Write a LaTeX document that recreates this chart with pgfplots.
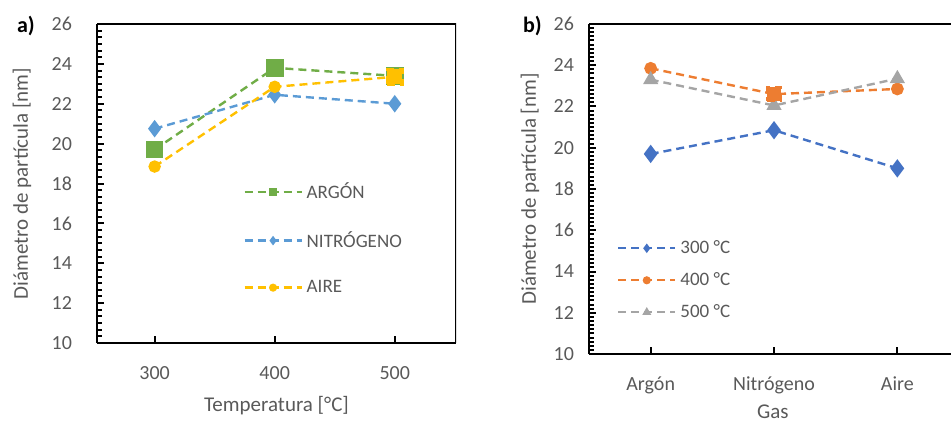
\documentclass[border=0pt]{standalone}
\usepackage{pgfplots}
\pgfplotsset{compat=1.18}
\usepackage{fontspec}
\setmainfont{Carlito}
\setsansfont{Carlito}
\definecolor{txt}{HTML}{595959}
\definecolor{cgreen}{HTML}{70AD47}
\definecolor{cblue}{HTML}{5B9BD5}
\definecolor{cgold}{HTML}{FFC000}
\definecolor{dblue}{HTML}{4472C4}
\definecolor{corange}{HTML}{ED7D31}
\definecolor{cgray}{HTML}{A5A5A5}
\pgfplotsset{
  textsty/.style={
    tick label style={font=\fontsize{10}{12}\selectfont, text=txt},
    label style={font=\fontsize{10.5}{12}\selectfont, text=txt},
    legend style={draw=none, fill=none, font=\fontsize{9.5}{11}\selectfont, text=txt},
    legend cell align=left,
  },
  linesty/.style={
    scale only axis,
    axis x line*=bottom, axis y line*=left,
    axis line style={-, line width=1.2pt, black},
    tick style={black, line width=1pt},
    tick align=inside,
    major tick length=3.5pt,
    minor tick length=2.5pt,
    ymin=10, ymax=26, ytick={10,12,...,26},
    yticklabels={10,12,14,16,18,20,22,24,26},
    every axis plot/.append style={line width=1.2pt, dash pattern=on 4pt off 2.5pt},
    legend image code/.code={\draw[mark repeat=2,mark phase=2,mark size=1.4pt] plot coordinates {(0cm,0cm) (0.5cm,0cm) (1cm,0cm)};},
  },
}
\begin{document}
\begin{tikzpicture}
\useasboundingbox (0,0) rectangle (475.5pt,-211pt);
% Panel a
\begin{axis}[textsty,
  at={(48.5pt,-171.5pt)}, anchor=south west,
  width=179.5pt, height=159.5pt,
  xmin=252, xmax=551, xtick={300,400,500}, xticklabels={300,400,500},
  minor y tick num=5,
  xticklabel style={yshift=-8pt},
  yticklabel style={xshift=-9pt},
  xlabel={Temperatura [°C]}, ylabel={Diámetro de partícula [nm]},
  xlabel style={at={(axis description cs:0.5,-0.197)}, anchor=center},
  ylabel style={at={(axis description cs:-0.209,0.5)}, anchor=center, rotate=0},
  legend style={at={(0.39,0.53)}, anchor=north west, row sep=11pt},
  linesty,
]
\addplot[cgreen, mark=square*, mark size=3.8pt, mark options={solid}] coordinates {(300,19.7) (400,23.8) (500,23.4)};
\addlegendentry{ARGÓN}
\addplot[cblue, mark=diamond*, mark size=3.4pt, mark options={solid}] coordinates {(300,20.75) (400,22.45) (500,22.0)};
\addlegendentry{NITRÓGENO}
\addplot[cgold, mark=*, mark size=2.5pt, mark options={solid}] coordinates {(300,18.85) (400,22.85) (500,23.35)};
\addlegendentry{AIRE}
\addplot[cgold, only marks, mark=square*, mark size=3.8pt, forget plot] coordinates {(500,23.35)};
\draw[black, line width=0.6pt] (rel axis cs:0,1) -- (rel axis cs:1,1) -- (rel axis cs:1,0);
\draw[black, line width=1.2pt] (rel axis cs:0,1) -- (rel axis cs:0,0) -- (rel axis cs:1,0);
\pgfplotsinvokeforeach{0,...,48}{\draw[black, line width=0.8pt] (rel axis cs:0,#1/48) -- ++(2.5pt,0pt);}
\pgfplotsinvokeforeach{300,400,500}{\draw[black, line width=0.8pt] (axis cs:#1,10) -- ++(0pt,-3pt);}
\end{axis}
\node[font=\bfseries\fontsize{11}{12}\selectfont, anchor=west] at (5pt,-13pt) {a)};
% Panel b
\begin{axis}[textsty,
  at={(294.5pt,-177pt)}, anchor=south west,
  width=181pt, height=165pt,
  xmin=-0.5, xmax=2.435, xtick={0,1,2},
  xticklabels={Argón,Nitrógeno,Aire},
  minor y tick num=9,
  xticklabel style={yshift=-8pt},
  yticklabel style={xshift=-4pt},
  xlabel={Gas}, ylabel={Diámetro de partícula [nm]},
  xlabel style={at={(axis description cs:0.508,-0.176)}, anchor=center},
  ylabel style={at={(axis description cs:-0.163,0.5)}, anchor=center, rotate=0},
  legend style={at={(0.06,0.37)}, anchor=north west, row sep=4pt},
  linesty,
]
\addplot[dblue, mark=diamond*, mark size=3.6pt, mark options={solid}] coordinates {(0,19.7) (1,20.85) (2,19.0)};
\addlegendentry{300 °C}
\addplot[corange, mark=*, mark size=2.6pt, mark options={solid}] coordinates {(0,23.85) (1,22.6) (2,22.85)};
\addlegendentry{400 °C}
\addplot[cgray, mark=triangle*, mark size=3.2pt, mark options={solid}] coordinates {(0,23.3) (1,22.05) (2,23.35)};
\addlegendentry{500 °C}
\addplot[corange, only marks, mark=square*, mark size=3.5pt, forget plot] coordinates {(1,22.6)};
\draw[black, line width=0.6pt] (rel axis cs:0,1) -- (rel axis cs:1,1);
\draw[black, line width=1.2pt] (rel axis cs:0,1) -- (rel axis cs:0,0) -- (rel axis cs:1,0);
\pgfplotsinvokeforeach{0,...,80}{\draw[black, line width=0.8pt] (rel axis cs:0,#1/80) -- ++(2.5pt,0pt);}
\pgfplotsinvokeforeach{0,1,2}{\draw[black, line width=0.8pt] (axis cs:#1,10) -- ++(0pt,-3pt);}
\end{axis}
\node[font=\bfseries\fontsize{11}{12}\selectfont, anchor=west] at (258pt,-13pt) {b)};
\end{tikzpicture}
\end{document}
